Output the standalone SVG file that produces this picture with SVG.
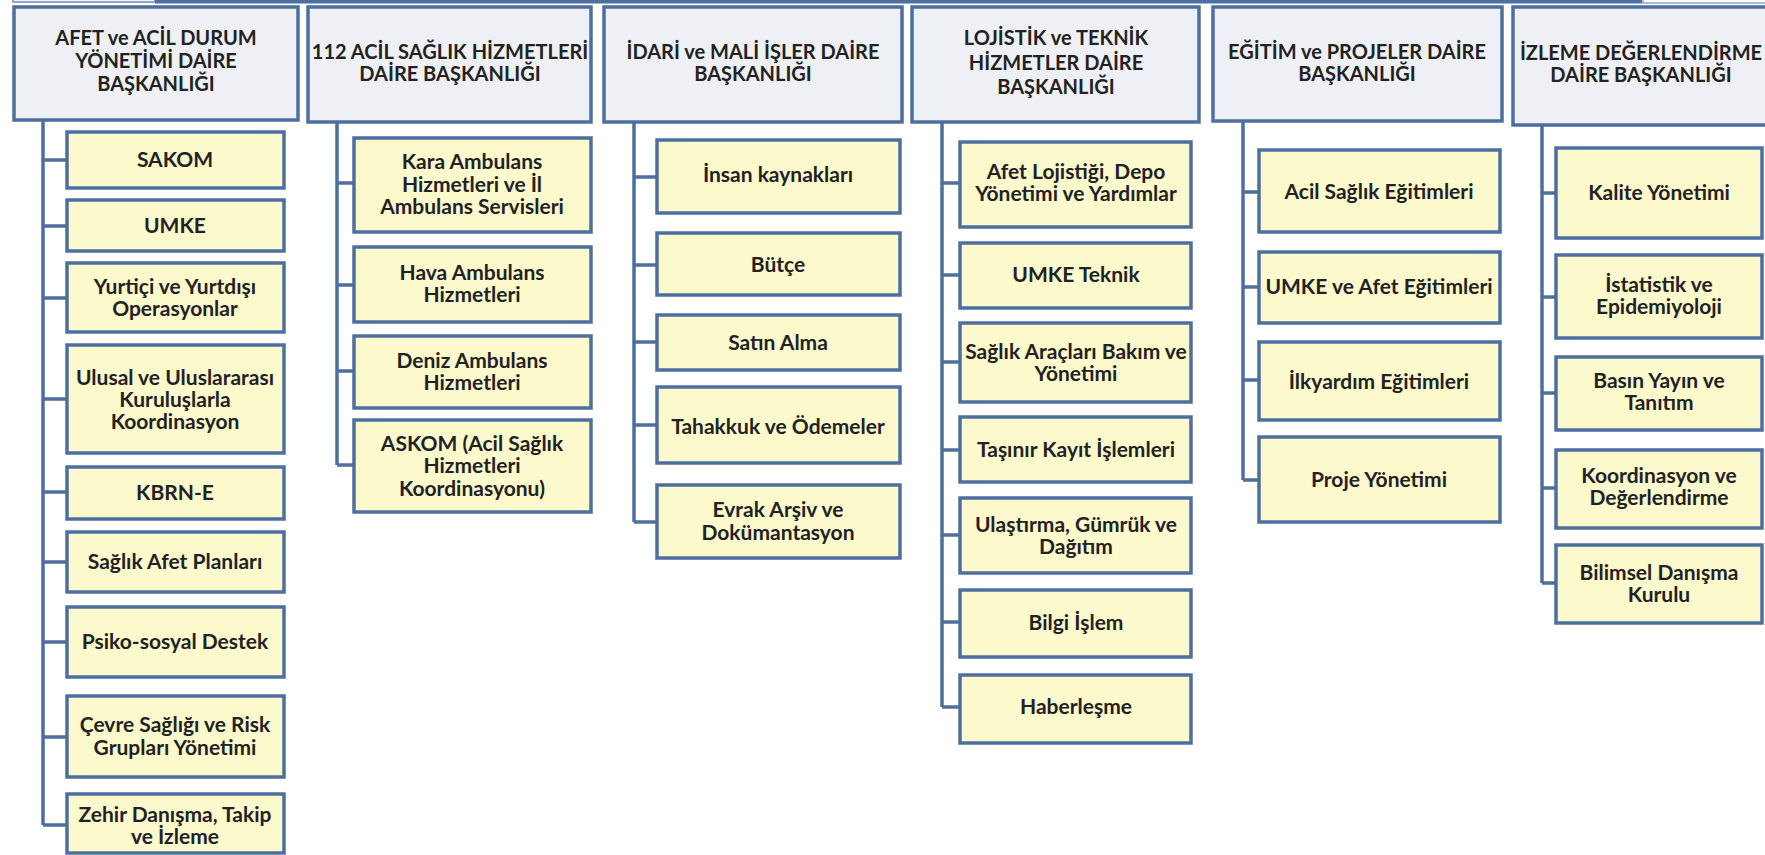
<svg xmlns="http://www.w3.org/2000/svg" width="1765" height="855" viewBox="0 0 1765 855">
<style>
.hd{fill:#eef0f5;stroke:#4d6f9f;stroke-width:3.5}
.ch{fill:#fcf9cd;stroke:#4d6f9f;stroke-width:3.5}
.ln{fill:none;stroke:#4d6f9f;stroke-width:3.5}
text{font-family:Lato,"Liberation Sans",sans-serif;font-weight:bold;fill:#222222;text-anchor:middle}
.ht{font-size:20px}
.ct{font-size:21px}
</style>
<rect width="1765" height="855" fill="#ffffff"/>
<g id="top">
<rect x="13" y="-20" width="142" height="22" fill="#f2f4f8" stroke="#8fa6c6" stroke-width="2"/>
<line x1="155" y1="1.5" x2="1643" y2="1.5" stroke="#4d6f9f" stroke-width="4"/>
<rect x="1643" y="-20" width="130" height="23" fill="#ffffff" stroke="#a9bcd6" stroke-width="2"/>
</g>
<g id="connectors">
<path class="ln" d="M43 121V825M43 160H67M43 226H67M43 298H67M43 399H67M43 492H67M43 562H67M43 642H67M43 737H67M43 825H67"/>
<path class="ln" d="M337 122V465M337 183H354M337 285H354M337 371H354M337 465H354"/>
<path class="ln" d="M634 122V522M634 177H657M634 265H657M634 342H657M634 425H657M634 522H657"/>
<path class="ln" d="M942 122V707M942 183H960M942 275H960M942 362H960M942 450H960M942 535H960M942 622H960M942 707H960"/>
<path class="ln" d="M1243 121V480M1243 192H1259M1243 287H1259M1243 380H1259M1243 480H1259"/>
<path class="ln" d="M1542 125V583M1542 193H1556M1542 297H1556M1542 393H1556M1542 488H1556M1542 583H1556"/>
</g>
<g id="h1"><rect class="hd" x="14" y="7" width="284" height="113"/><text class="ht" x="156" y="45">AFET ve ACİL DURUM</text><text class="ht" x="156" y="68">YÖNETİMİ DAİRE</text><text class="ht" x="156" y="91">BAŞKANLIĞI</text></g>
<g id="h2"><rect class="hd" x="308" y="7" width="283" height="115"/><text class="ht" x="450" y="59">112 ACİL SAĞLIK HİZMETLERİ</text><text class="ht" x="450" y="81">DAİRE BAŞKANLIĞI</text></g>
<g id="h3"><rect class="hd" x="604" y="7" width="298" height="115"/><text class="ht" x="753" y="59">İDARİ ve MALİ İŞLER DAİRE</text><text class="ht" x="753" y="81">BAŞKANLIĞI</text></g>
<g id="h4"><rect class="hd" x="912" y="7" width="287" height="115"/><text class="ht" x="1056" y="45">LOJİSTİK  ve TEKNİK</text><text class="ht" x="1056" y="70">HİZMETLER DAİRE</text><text class="ht" x="1056" y="94">BAŞKANLIĞI</text></g>
<g id="h5"><rect class="hd" x="1213" y="7" width="289" height="114"/><text class="ht" x="1357" y="59">EĞİTİM ve PROJELER DAİRE</text><text class="ht" x="1357" y="81">BAŞKANLIĞI</text></g>
<g id="h6"><rect class="hd" x="1513" y="7" width="260" height="118"/><text class="ht" x="1641" y="60">İZLEME DEĞERLENDİRME</text><text class="ht" x="1641" y="82">DAİRE BAŞKANLIĞI</text></g>

<g id="c1-1"><rect class="ch" x="67" y="132" width="217" height="56"/><text class="ct" x="175" y="167">SAKOM</text></g>
<g id="c1-2"><rect class="ch" x="67" y="200" width="217" height="51"/><text class="ct" x="175" y="233">UMKE</text></g>
<g id="c1-3"><rect class="ch" x="67" y="263" width="217" height="69"/><text class="ct" x="175" y="294">Yurtiçi ve Yurtdışı</text><text class="ct" x="175" y="316">Operasyonlar</text></g>
<g id="c1-4"><rect class="ch" x="67" y="345" width="217" height="108"/><text class="ct" x="175" y="385">Ulusal ve Uluslararası</text><text class="ct" x="175" y="407">Kuruluşlarla</text><text class="ct" x="175" y="429">Koordinasyon</text></g>
<g id="c1-5"><rect class="ch" x="67" y="467" width="217" height="52"/><text class="ct" x="175" y="500">KBRN-E</text></g>
<g id="c1-6"><rect class="ch" x="67" y="532" width="217" height="60"/><text class="ct" x="175" y="569">Sağlık Afet Planları</text></g>
<g id="c1-7"><rect class="ch" x="67" y="607" width="217" height="70"/><text class="ct" x="175" y="649">Psiko-sosyal Destek</text></g>
<g id="c1-8"><rect class="ch" x="67" y="696" width="217" height="81"/><text class="ct" x="175" y="732">Çevre Sağlığı ve Risk</text><text class="ct" x="175" y="755">Grupları Yönetimi</text></g>
<g id="c1-9"><rect class="ch" x="67" y="794" width="217" height="59"/><text class="ct" x="175" y="822">Zehir Danışma, Takip</text><text class="ct" x="175" y="844">ve İzleme</text></g>

<g id="c2-1"><rect class="ch" x="354" y="138" width="237" height="94"/><text class="ct" x="472" y="169">Kara Ambulans</text><text class="ct" x="472" y="192">Hizmetleri ve İl</text><text class="ct" x="472" y="214">Ambulans Servisleri</text></g>
<g id="c2-2"><rect class="ch" x="354" y="247" width="237" height="75"/><text class="ct" x="472" y="280">Hava Ambulans</text><text class="ct" x="472" y="302">Hizmetleri</text></g>
<g id="c2-3"><rect class="ch" x="354" y="336" width="237" height="72"/><text class="ct" x="472" y="368">Deniz Ambulans</text><text class="ct" x="472" y="390">Hizmetleri</text></g>
<g id="c2-4"><rect class="ch" x="354" y="420" width="237" height="92"/><text class="ct" x="472" y="451">ASKOM (Acil Sağlık</text><text class="ct" x="472" y="473">Hizmetleri</text><text class="ct" x="472" y="496">Koordinasyonu)</text></g>

<g id="c3-1"><rect class="ch" x="657" y="140" width="243" height="73"/><text class="ct" x="778" y="182">İnsan kaynakları</text></g>
<g id="c3-2"><rect class="ch" x="657" y="233" width="243" height="62"/><text class="ct" x="778" y="272">Bütçe</text></g>
<g id="c3-3"><rect class="ch" x="657" y="315" width="243" height="55"/><text class="ct" x="778" y="350">Satın Alma</text></g>
<g id="c3-4"><rect class="ch" x="657" y="387" width="243" height="76"/><text class="ct" x="778" y="434">Tahakkuk ve Ödemeler</text></g>
<g id="c3-5"><rect class="ch" x="657" y="485" width="243" height="73"/><text class="ct" x="778" y="517">Evrak Arşiv ve</text><text class="ct" x="778" y="540">Dokümantasyon</text></g>

<g id="c4-1"><rect class="ch" x="960" y="142" width="231" height="85"/><text class="ct" x="1076" y="179">Afet Lojistiği, Depo</text><text class="ct" x="1076" y="201">Yönetimi ve Yardımlar</text></g>
<g id="c4-2"><rect class="ch" x="960" y="243" width="231" height="65"/><text class="ct" x="1076" y="282">UMKE Teknik</text></g>
<g id="c4-3"><rect class="ch" x="960" y="323" width="231" height="79"/><text class="ct" x="1076" y="359">Sağlık Araçları Bakım ve</text><text class="ct" x="1076" y="381">Yönetimi</text></g>
<g id="c4-4"><rect class="ch" x="960" y="417" width="231" height="65"/><text class="ct" x="1076" y="457">Taşınır Kayıt İşlemleri</text></g>
<g id="c4-5"><rect class="ch" x="960" y="498" width="231" height="75"/><text class="ct" x="1076" y="532">Ulaştırma, Gümrük ve</text><text class="ct" x="1076" y="554">Dağıtım</text></g>
<g id="c4-6"><rect class="ch" x="960" y="590" width="231" height="67"/><text class="ct" x="1076" y="630">Bilgi İşlem</text></g>
<g id="c4-7"><rect class="ch" x="960" y="675" width="231" height="68"/><text class="ct" x="1076" y="714">Haberleşme</text></g>

<g id="c5-1"><rect class="ch" x="1259" y="150" width="241" height="82"/><text class="ct" x="1379" y="199">Acil Sağlık Eğitimleri</text></g>
<g id="c5-2"><rect class="ch" x="1259" y="252" width="241" height="71"/><text class="ct" x="1379" y="294">UMKE ve Afet Eğitimleri</text></g>
<g id="c5-3"><rect class="ch" x="1259" y="342" width="241" height="78"/><text class="ct" x="1379" y="389">İlkyardım Eğitimleri</text></g>
<g id="c5-4"><rect class="ch" x="1259" y="437" width="241" height="85"/><text class="ct" x="1379" y="487">Proje Yönetimi</text></g>

<g id="c6-1"><rect class="ch" x="1556" y="148" width="206" height="90"/><text class="ct" x="1659" y="200">Kalite Yönetimi</text></g>
<g id="c6-2"><rect class="ch" x="1556" y="255" width="206" height="83"/><text class="ct" x="1659" y="292">İstatistik ve</text><text class="ct" x="1659" y="314">Epidemiyoloji</text></g>
<g id="c6-3"><rect class="ch" x="1556" y="357" width="206" height="73"/><text class="ct" x="1659" y="388">Basın Yayın ve</text><text class="ct" x="1659" y="410">Tanıtım</text></g>
<g id="c6-4"><rect class="ch" x="1556" y="450" width="206" height="78"/><text class="ct" x="1659" y="483">Koordinasyon ve</text><text class="ct" x="1659" y="505">Değerlendirme</text></g>
<g id="c6-5"><rect class="ch" x="1556" y="545" width="206" height="78"/><text class="ct" x="1659" y="580">Bilimsel Danışma</text><text class="ct" x="1659" y="602">Kurulu</text></g>
</svg>
